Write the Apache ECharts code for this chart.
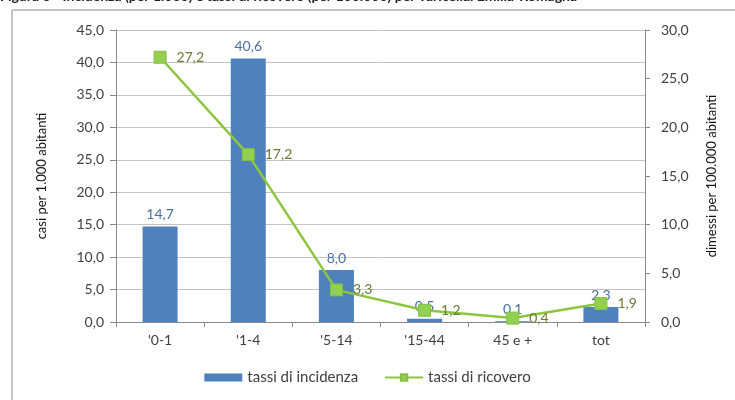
<!DOCTYPE html>
<html>
<head>
<meta charset="utf-8">
<script src="https://cdn.jsdelivr.net/npm/echarts@6/dist/echarts.min.js"></script>
<style>
	html, body { margin: 0; padding: 0; background: #fff; }
	#chart { width: 735px; height: 400px; }
</style>
</head>
<body>
<div id="chart"></div>
<script>
	// data
	var categories = ["'0-1", "'1-4", "'5-14", "'15-44", "45 e +", "tot"];
	var incidenza = [14.7, 40.6, 8.0, 0.5, 0.1, 2.3];
	var ricovero = [27.2, 17.2, 3.3, 1.2, 0.4, 1.9];
	var leftTicks = [0, 45, 5];
	var rightTicks = [0, 30, 5];

	var font = 'Lato, "Open Sans", sans-serif';
	var fmt = function(v){
		return Number(v).toFixed(1).replace('.', ',');
	};

	var chart = echarts.init(document.getElementById('chart'));
	chart.setOption({
		animation: false,
		textStyle: { fontFamily: font },
		graphic: [
			{
				type: 'text',
				left: 0,
				top: -11,
				style: {
					text: 'Figura 3 - Incidenza (per 1.000) e tassi di ricovero (per 100.000) per varicella. Emilia-Romagna',
					font: 'bold 14px ' + font,
					fill: '#222'
				}
			},
			{
				type: 'rect',
				shape: { x: 12, y: 10, width: 760, height: 420 },
				style: { fill: 'none', stroke: '#8a8a8a', lineWidth: 1 }
			}
		],
		grid: {
			left: 116,
			right: 90,
			top: 30,
			bottom: 78
		},
		legend: {
			bottom: 10,
			left: 'center',
			itemGap: 26,
			textStyle: { fontSize: 15, color: '#404040', fontFamily: font },
			data: [
				{ name: 'tassi di incidenza', icon: 'rect', itemStyle: { color: '#4f81bd' } },
				{ name: 'tassi di ricovero' }
			],
			itemWidth: 38,
			itemHeight: 8
		},
		xAxis: {
			type: 'category',
			data: categories,
			axisLine: { lineStyle: { color: '#8a8a8a' } },
			axisTick: { show: true, alignWithLabel: false, length: 5, lineStyle: { color: '#8a8a8a' } },
			axisLabel: { color: '#404040', fontSize: 14, margin: 11 }
		},
		yAxis: [
			{
				type: 'value',
				min: leftTicks[0],
				max: leftTicks[1],
				interval: leftTicks[2],
				name: 'casi per 1.000 abitanti',
				nameLocation: 'middle',
				nameGap: 68,
				nameTextStyle: { color: '#111', fontSize: 13 },
				axisLine: { show: true, lineStyle: { color: '#8a8a8a' } },
				axisTick: { show: true, length: 6, lineStyle: { color: '#8a8a8a' } },
				axisLabel: { color: '#404040', fontSize: 14, margin: 12, formatter: fmt },
				splitLine: { lineStyle: { color: '#c4c4c4' } }
			},
			{
				type: 'value',
				min: rightTicks[0],
				max: rightTicks[1],
				interval: rightTicks[2],
				name: 'dimessi per 100.000 abitanti',
				nameLocation: 'middle',
				nameGap: 60,
				nameTextStyle: { color: '#111', fontSize: 13 },
				axisLine: { show: true, lineStyle: { color: '#8a8a8a' } },
				axisTick: { show: true, length: 5, lineStyle: { color: '#8a8a8a' } },
				axisLabel: { color: '#404040', fontSize: 14, margin: 16, formatter: fmt },
				splitLine: { show: false }
			}
		],
		series: [
			{
				name: 'tassi di incidenza',
				type: 'bar',
				yAxisIndex: 0,
				data: incidenza,
				barWidth: 35,
				itemStyle: { color: '#4f81bd' },
				label: {
					show: true,
					position: 'top',
					distance: 5,
					color: '#4a6fa8',
					fontSize: 14,
					formatter: function(p){ return fmt(p.value); }
				}
			},
			{
				name: 'tassi di ricovero',
				type: 'line',
				yAxisIndex: 1,
				data: ricovero,
				symbol: 'rect',
				symbolSize: 12,
				lineStyle: { color: '#8cc63f', width: 2.5 },
				itemStyle: { color: '#92d050', borderColor: '#86bf45', borderWidth: 1 },
				label: {
					show: true,
					position: 'right',
					distance: 10,
					color: '#6b7a34',
					fontSize: 14,
					formatter: function(p){ return fmt(p.value); }
				}
			}
		]
	});
</script>
</body>
</html>
